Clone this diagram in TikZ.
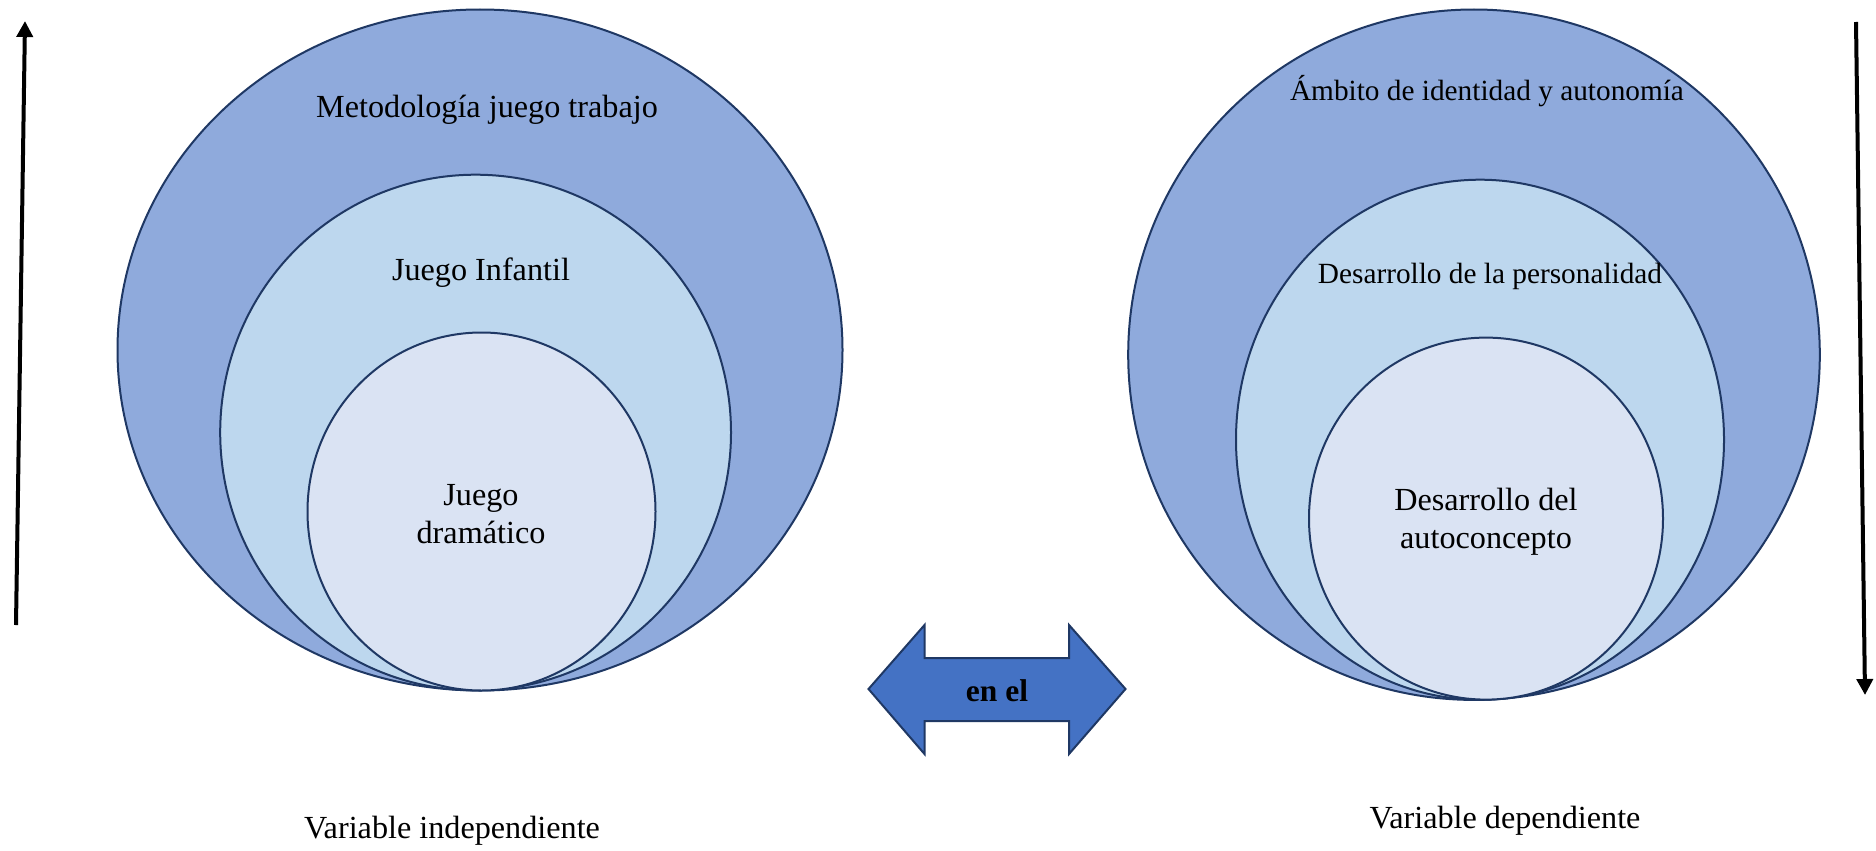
\documentclass[tikz,border=0pt]{standalone}
\usepackage{fontspec}
\setmainfont{Liberation Serif}
\usetikzlibrary{arrows.meta}
\definecolor{outerc}{HTML}{8FAADC}
\definecolor{midc}{HTML}{BDD7EE}
\definecolor{innerc}{HTML}{DAE3F3}
\definecolor{edgec}{HTML}{1F3864}
\definecolor{arrc}{HTML}{4472C4}
\begin{document}
\begin{tikzpicture}[x=1pt,y=-1pt,
  ring/.style={draw=edgec,line width=2pt},
  lbl/.style={font=\fontsize{32.2}{37.5}\selectfont, align=center, inner sep=0pt},
  lbls/.style={font=\fontsize{29.3}{35}\selectfont, align=center, inner sep=0pt},
  vline/.style={line width=4pt, -{Triangle[length=16pt,width=16pt]}}]
\useasboundingbox (0,0) rectangle (1876,851);
\fill[white] (0,0) rectangle (1876,851);
% left circles
\draw[ring, fill=outerc] (480,350) ellipse [x radius=362.5pt, y radius=340.5pt];
\draw[ring, fill=midc] (475.6,432.5) ellipse [x radius=255.4pt, y radius=257.8pt];
\draw[ring, fill=innerc] (481.5,511.5) ellipse [x radius=174pt, y radius=179pt];
% right circles
\draw[ring, fill=outerc] (1474,354.7) ellipse [x radius=345.8pt, y radius=345.2pt];
\draw[ring, fill=midc] (1480,439.7) ellipse [x radius=244pt, y radius=260pt];
\draw[ring, fill=innerc] (1486,518.6) ellipse [x radius=177pt, y radius=181pt];
% labels
\node[lbl] (metodo) at (487,110) {Metodología juego trabajo};
\node[lbl] (infantil) at (481,273) {Juego Infantil};
\node[lbl] (dramatico) at (481,514) {Juego\\dramático};
\node[lbls] (ambito) at (1487,91) {Ámbito de identidad y autonomía};
\node[lbls] (personal) at (1490,276) {Desarrollo de la personalidad};
\node[lbl] (autoc) at (1486,522) {Desarrollo del\\autoconcepto};
\node[lbl] (vi) at (452,831) {Variable independiente};
\node[lbl] (vd) at (1505,821) {Variable dependiente};
% double arrow
\draw[draw=edgec, line width=2pt, fill=arrc, line join=miter]
  (868.5,689) -- (924.5,625) -- (924.5,658) -- (1069,658) -- (1069,625)
  -- (1125.5,689) -- (1069,754) -- (1069,721) -- (924.5,721) -- (924.5,754) -- cycle;
\node[lbl, font=\fontsize{31.5}{37}\selectfont\bfseries] (enel) at (997,691) {en el};
% vertical arrows
\coordinate (la) at (16,625);
\coordinate (lb) at (25,21);
\coordinate (ra) at (1856,22);
\coordinate (rb) at (1865,695);
\draw[vline] (la) -- (lb);
\draw[vline] (ra) -- (rb);
\end{tikzpicture}
\end{document}
